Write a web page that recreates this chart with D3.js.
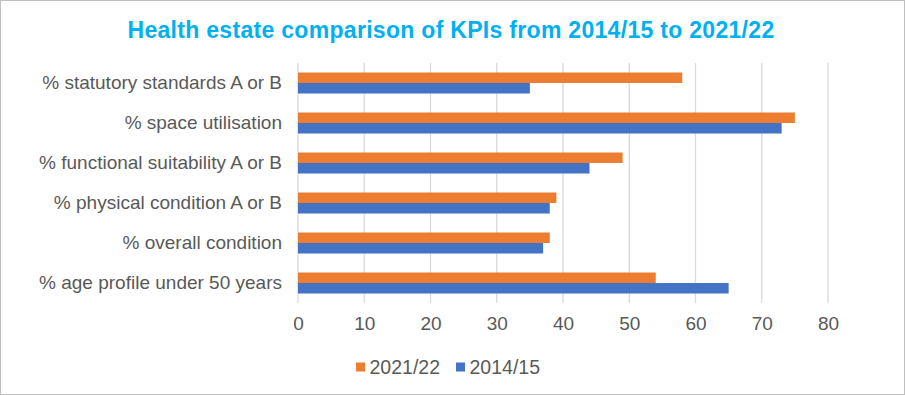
<!DOCTYPE html>
<html>
<head>
<meta charset="utf-8">
<script src="https://cdn.jsdelivr.net/npm/d3@7"></script>
<style>
  body { margin: 0; background: #fff; }
  svg { font-family: "Liberation Sans", Arial, sans-serif; }
</style>
</head>
<body>
<svg id="chart" width="905" height="395"></svg>
<script>
// data
const categories = [
  "% statutory standards A or B",
  "% space utilisation",
  "% functional suitability A or B",
  "% physical condition A or B",
  "% overall condition",
  "% age profile under 50 years"
];
const seriesNames = ["2021/22", "2014/15"];
const values2122 = [58, 75, 49, 39, 38, 54];
const values1415 = [35, 73, 44, 38, 37, 65];
const xTicks = [0, 10, 20, 30, 40, 50, 60, 70, 80];
const colors = { "2021/22": "#ED7D31", "2014/15": "#4472C4" };

const svg = d3.select("#chart");
const W = +svg.attr("width"), H = +svg.attr("height");

// chart border
svg.append("rect")
  .attr("x", 0.5).attr("y", 0.5)
  .attr("width", W - 1).attr("height", H - 1)
  .attr("fill", "#fff").attr("stroke", "#bfbfbf");

svg.append("text")
  .attr("x", 451).attr("y", 38)
  .attr("text-anchor", "middle")
  .attr("font-size", 23).attr("font-weight", "bold")
  .attr("letter-spacing", 0.3)
  .attr("fill", "#00B0F0")
  .text("Health estate comparison of KPIs from 2014/15 to 2021/22");

let margin = { top: 63, left: 298, right: 77, bottom: 92 };
let w = W - margin.left - margin.right;
let h = H - margin.top - margin.bottom;
let g = svg.append("g").attr("transform", `translate(${margin.left},${margin.top})`);

var xScale = d3.scaleLinear().domain([0, 80]).range([0, w]);
var yScale = d3.scaleBand().domain(categories).range([0, h]).paddingInner(0.475).paddingOuter(0.2375);
var inner = d3.scaleBand().domain(seriesNames).range([0, yScale.bandwidth()]);

// gridlines
g.selectAll(".grid")
  .data(xTicks)
  .enter().append("line")
  .attr("x1", d => xScale(d)).attr("x2", d => xScale(d))
  .attr("y1", 0).attr("y2", h)
  .attr("stroke", "#d9d9d9").attr("stroke-width", 1.3);

const rows = categories.map((c, i) => ({ cat: c, vals: [values2122[i], values1415[i]] }));

g.selectAll(".row")
  .data(rows)
  .enter().append("g")
  .attr("transform", d => `translate(0,${yScale(d.cat)})`)
  .selectAll("rect")
  .data(d => d.vals.map((v, j) => ({ key: seriesNames[j], v: v })))
  .enter().append("rect")
  .attr("x", xScale(0))
  .attr("y", d => inner(d.key))
  .attr("width", d => xScale(d.v) - xScale(0))
  .attr("height", inner.bandwidth())
  .attr("fill", d => colors[d.key]);

// category axis
let yAxis = g.append("g").call(d3.axisLeft(yScale).tickSize(0).tickPadding(16));
yAxis.select(".domain").remove();
yAxis.selectAll("text")
  .attr("font-size", 19).attr("fill", "#595959")
  .attr("font-family", "Liberation Sans, Arial, sans-serif");

// value axis
let xAxis = g.append("g")
  .attr("transform", `translate(0,${h})`)
  .call(d3.axisBottom(xScale).tickValues(xTicks).tickSize(0).tickPadding(14));
xAxis.select(".domain").remove();
xAxis.selectAll("text")
  .attr("font-size", 19).attr("fill", "#595959")
  .attr("font-family", "Liberation Sans, Arial, sans-serif");

// legend
let legend = svg.append("g").attr("transform", "translate(356,367)");
let lx = [0, 100];
seriesNames.forEach((s, i) => {
  let item = legend.append("g").attr("transform", `translate(${lx[i]},0)`);
  item.append("rect").attr("x", 0).attr("y", -4.5).attr("width", 9).attr("height", 9).attr("fill", colors[s]);
  item.append("text").attr("x", 13.5).attr("y", 0).attr("dy", "0.35em")
    .attr("font-size", 19.5).attr("fill", "#595959").text(s);
});
</script>
</body>
</html>
